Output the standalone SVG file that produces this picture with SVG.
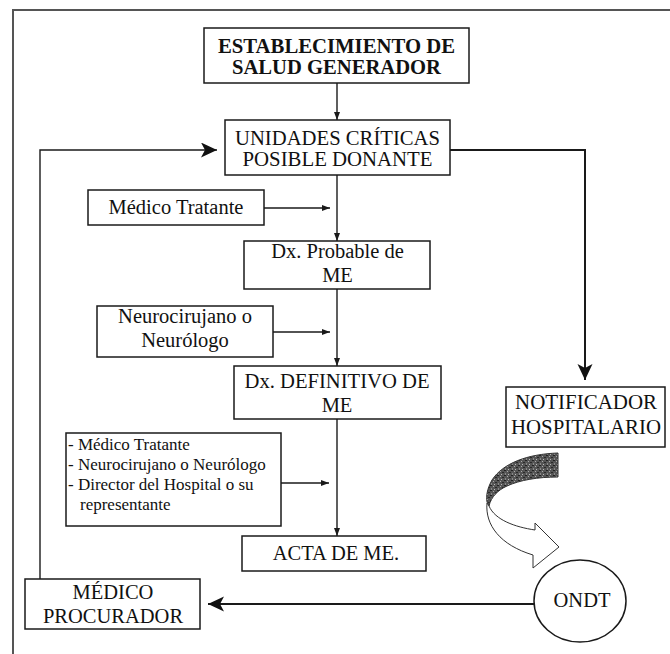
<svg xmlns="http://www.w3.org/2000/svg" width="670" height="654" viewBox="0 0 670 654">
<style>
.box{fill:#fff;stroke:#1a1a1a;stroke-width:1.5}
text{font-family:'Liberation Serif','DejaVu Serif','Times New Roman',serif;fill:#111;text-anchor:middle;font-size:20.5px}
.tb{font-weight:bold;font-size:20.5px}
.tc{font-size:20.5px}
.ts{font-size:17px;text-anchor:start}
.ln{fill:none;stroke:#1a1a1a;stroke-width:1.4}
.lnb{fill:none;stroke:#1a1a1a;stroke-width:2}
.frame{fill:none;stroke:#555;stroke-width:2}
</style>
<defs>
<marker id="sm" markerUnits="userSpaceOnUse" markerWidth="9" markerHeight="7" refX="8" refY="3" orient="auto">
<path d="M0,0 L8,3 L0,6 Z" fill="#1a1a1a"/>
</marker>
<marker id="big" markerUnits="userSpaceOnUse" markerWidth="17" markerHeight="16" refX="16" refY="7.5" orient="auto">
<path d="M0,0 L16,7.5 L0,15 L4,7.5 Z" fill="#111"/>
</marker>
<pattern id="speck" width="7" height="5" patternUnits="userSpaceOnUse">
<rect width="7" height="5" fill="#555"/>
<rect x="0" y="0" width="2" height="1" fill="#222"/>
<rect x="3" y="1" width="1" height="1" fill="#aaa"/>
<rect x="5" y="2" width="2" height="1" fill="#2a2a2a"/>
<rect x="1" y="3" width="1" height="2" fill="#888"/>
<rect x="4" y="4" width="1" height="1" fill="#bbb"/>
</pattern>
</defs>

<g id="frame">
<polyline class="frame" points="13,654 13,10 670,10"/>
</g>

<g id="connectors">
<line class="ln" x1="337" y1="83" x2="337" y2="120" marker-end="url(#sm)"/>
<line class="ln" x1="337" y1="175" x2="337" y2="241" marker-end="url(#sm)"/>
<line class="ln" x1="264" y1="208" x2="330" y2="208" marker-end="url(#sm)"/>
<line class="ln" x1="337" y1="289" x2="337" y2="366" marker-end="url(#sm)"/>
<line class="ln" x1="273" y1="332" x2="330" y2="332" marker-end="url(#sm)"/>
<line class="ln" x1="337" y1="419" x2="337" y2="536" marker-end="url(#sm)"/>
<line class="ln" x1="281" y1="483" x2="329" y2="483" marker-end="url(#sm)"/>
<polyline class="lnb" points="450,150 585,150 585,380" marker-end="url(#big)"/>
<line class="lnb" x1="534" y1="604" x2="208" y2="604" marker-end="url(#big)"/>
<polyline class="ln" points="40,579 40,150 217,150" marker-end="url(#big)"/>
<g id="curved-arrow">
<path d="M558,453 C528,454 503,463 492,480 C487,489 486,496 487,502 L489,506 C491,497 498,490 507,486 C520,480 538,477 558,477 Z" fill="url(#speck)" stroke="#333" stroke-width="1"/>
<path d="M487,503 C485,525 500,545 533,555 L533,568 L559,547 L535,523 L535,530 C515,527 495,520 489,506 Z" fill="#fff" stroke="#333" stroke-width="1"/>
</g>
</g>

<g id="n-establecimiento">
<rect class="box" x="204" y="28" width="265" height="55"/>
<text class="tb" x="336.5" y="53" textLength="237" lengthAdjust="spacingAndGlyphs">ESTABLECIMIENTO DE</text>
<text class="tb" x="336.5" y="74" textLength="209" lengthAdjust="spacingAndGlyphs">SALUD GENERADOR</text>
</g>

<g id="n-unidades">
<rect class="box" x="225" y="120" width="225" height="55"/>
<text class="tc" x="337.5" y="145" textLength="205" lengthAdjust="spacingAndGlyphs">UNIDADES CRÍTICAS</text>
<text class="tc" x="337.5" y="166" textLength="190" lengthAdjust="spacingAndGlyphs">POSIBLE DONANTE</text>
</g>

<g id="n-medico-tratante">
<rect class="box" x="88" y="190" width="176" height="35"/>
<text x="176" y="214">Médico Tratante</text>
</g>

<g id="n-dx-probable">
<rect class="box" x="244" y="241" width="186" height="48"/>
<text x="337.5" y="258">Dx. Probable de</text>
<text x="337.5" y="282">ME</text>
</g>

<g id="n-neuro">
<rect class="box" x="97" y="306" width="176" height="51"/>
<text x="185" y="323">Neurocirujano o</text>
<text x="185" y="347">Neurólogo</text>
</g>

<g id="n-dx-definitivo">
<rect class="box" x="234" y="366" width="207" height="53"/>
<text x="337" y="388" textLength="185" lengthAdjust="spacingAndGlyphs">Dx. DEFINITIVO DE</text>
<text x="337" y="412">ME</text>
</g>

<g id="n-notificador">
<rect class="box" x="506" y="387" width="159" height="60"/>
<text class="tc" x="586" y="409" textLength="142" lengthAdjust="spacingAndGlyphs">NOTIFICADOR</text>
<text class="tc" x="586" y="434" textLength="150" lengthAdjust="spacingAndGlyphs">HOSPITALARIO</text>
</g>

<g id="n-lista">
<rect class="box" x="66" y="433" width="215" height="93"/>
<text class="ts" x="68" y="450">- Médico Tratante</text>
<text class="ts" x="68" y="470">- Neurocirujano o Neurólogo</text>
<text class="ts" x="68" y="490">- Director del Hospital o su</text>
<text class="ts" x="80" y="510">representante</text>
</g>

<g id="n-acta">
<rect class="box" x="242" y="536" width="184" height="35"/>
<text x="336" y="560">ACTA DE ME.</text>
</g>

<g id="n-medico-procurador">
<rect class="box" x="25" y="579" width="175" height="50"/>
<text x="113" y="599">MÉDICO</text>
<text x="113" y="623">PROCURADOR</text>
</g>

<g id="n-ondt">
<ellipse class="box" cx="580" cy="601" rx="46" ry="41"/>
<text x="582" y="607">ONDT</text>
</g>
</svg>
